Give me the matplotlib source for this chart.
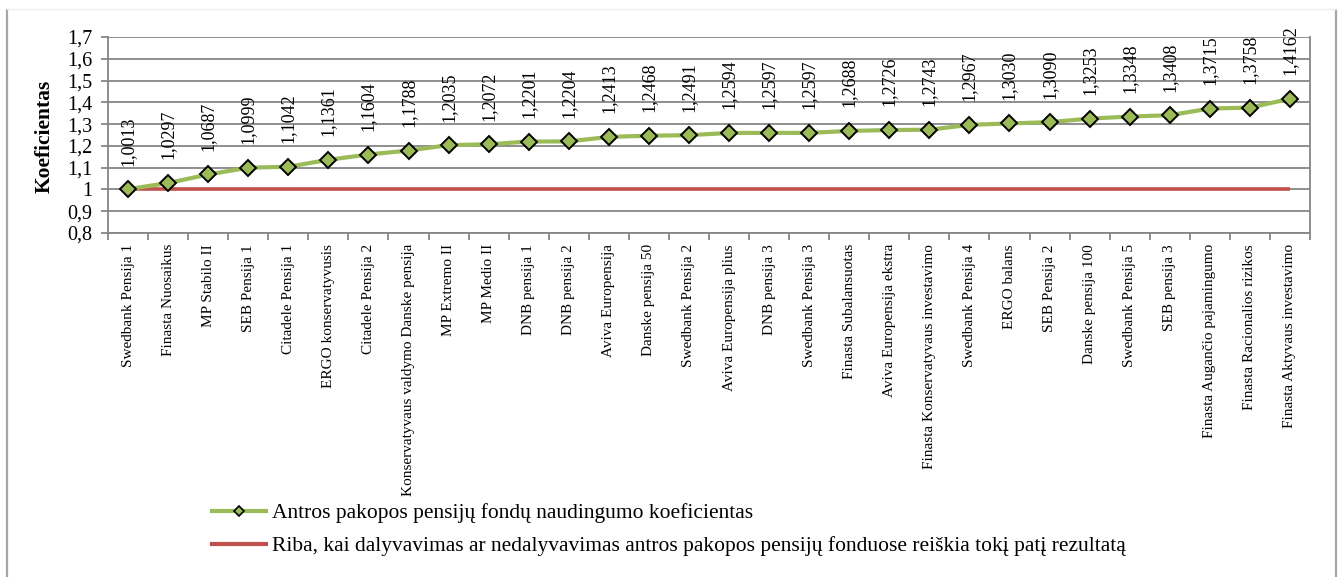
import matplotlib
matplotlib.use("Agg")
import matplotlib.pyplot as plt
from matplotlib.lines import Line2D
from matplotlib.font_manager import FontProperties

plt.rcParams["font.family"] = ["Liberation Serif", "DejaVu Serif"]

funds = [
    "Swedbank Pensija 1", "Finasta Nuosaikus", "MP Stabilo II", "SEB Pensija 1",
    "Citadele Pensija 1", "ERGO konservatyvusis", "Citadele Pensija 2",
    "Konservatyvaus valdymo Danske pensija", "MP Extremo II", "MP Medio II",
    "DNB pensija 1", "DNB pensija 2", "Aviva Europensija", "Danske pensija 50",
    "Swedbank Pensija 2", "Aviva Europensija plius", "DNB pensija 3",
    "Swedbank Pensija 3", "Finasta Subalansuotas", "Aviva Europensija ekstra",
    "Finasta Konservatyvaus investavimo", "Swedbank Pensija 4", "ERGO balans",
    "SEB Pensija 2", "Danske pensija 100", "Swedbank Pensija 5", "SEB pensija 3",
    "Finasta Augančio pajamingumo", "Finasta Racionalios rizikos",
    "Finasta Aktyvaus investavimo",
]
coefficients = [
    1.0013, 1.0297, 1.0687, 1.0999, 1.1042, 1.1361, 1.1604, 1.1788, 1.2035,
    1.2072, 1.2201, 1.2204, 1.2413, 1.2468, 1.2491, 1.2594, 1.2597, 1.2597,
    1.2688, 1.2726, 1.2743, 1.2967, 1.3030, 1.3090, 1.3253, 1.3348, 1.3408,
    1.3715, 1.3758, 1.4162,
]
threshold = [1.0] * len(funds)
y_ticks = [0.8, 0.9, 1.0, 1.1, 1.2, 1.3, 1.4, 1.5, 1.6, 1.7]
y_tick_labels = ["0,8", "0,9", "1", "1,1", "1,2", "1,3", "1,4", "1,5", "1,6", "1,7"]
series_label = "Antros pakopos pensijų fondų naudingumo koeficientas"
threshold_label = ("Riba, kai dalyvavimas ar nedalyvavimas antros pakopos pensijų "
                   "fonduose reiškia tokį patį rezultatą")

W, H = 1342, 577
fig = plt.figure(figsize=(W / 100, H / 100), dpi=100)

# outer frame of the chart object
frame_col = "#A6A6A6"
fig.add_artist(Line2D([7 / W, 7 / W], [0, 1 - 10 / H], transform=fig.transFigure,
                      color=frame_col, lw=1.6))
fig.add_artist(Line2D([1336 / W, 1336 / W], [0, 1 - 10 / H], transform=fig.transFigure,
                      color=frame_col, lw=1.6))
fig.add_artist(Line2D([7 / W, 1336 / W], [1 - 9 / H, 1 - 9 / H], transform=fig.transFigure,
                      color="#EEEEEE", lw=1.0))

left, right, top, bottom = 108, 1310, 37, 233
ax = fig.add_axes([left / W, 1 - bottom / H, (right - left) / W, (bottom - top) / H])

grid_col = "#868686"
x = list(range(len(funds)))
green = "#9BBB59"
red = "#C0504D"

ax.plot(x, threshold, color=red, lw=2.6, solid_capstyle="butt", zorder=3)
ax.plot(x, coefficients, color=green, lw=3.0, marker="D", markersize=8.5,
        markerfacecolor=green, markeredgecolor="black", markeredgewidth=1.4, zorder=4)

for xi, v in zip(x, coefficients):
    ax.annotate(f"{v:.4f}".replace(".", ","), (xi, v), xytext=(0, 17),
                textcoords="offset points", rotation=90, ha="center", va="bottom",
                fontsize=13, color="black")

ax.set_xlim(-0.5, len(funds) - 0.5)
ax.set_ylim(0.8, 1.7)
ax.set_yticks(y_ticks)
ax.set_yticklabels(y_tick_labels, fontsize=14.5)
ax.yaxis.grid(True, color=grid_col, lw=1.3)
ax.set_axisbelow(True)

ax.set_xticks(x)
ax.set_xticklabels(funds, rotation=90, fontsize=11, va="top", ha="center")
ax.set_xticks([i - 0.5 for i in range(len(funds) + 1)], minor=True)
ax.tick_params(axis="x", which="major", length=0, pad=8)
ax.tick_params(axis="x", which="minor", length=5, width=1.3, color=grid_col)
ax.tick_params(axis="y", length=5, width=1.3, color=grid_col, pad=6)

for side in ("left", "bottom", "right", "top"):
    ax.spines[side].set_color(grid_col)
    ax.spines[side].set_linewidth(1.3)
ax.spines["top"].set_visible(False)

fig.text(45 / W, 1 - 136 / H, "Koeficientas", rotation=90, ha="center", va="center",
         fontsize=15.5, fontweight="bold")

handles = [
    Line2D([], [], color=green, lw=3.0, marker="D", markersize=5,
           markerfacecolor=green, markeredgecolor="black", markeredgewidth=1.2),
    Line2D([], [], color=red, lw=3.0),
]
legend_font = FontProperties(family=["Liberation Serif", "DejaVu Serif"], size=15.5)
fig.legend(handles, [series_label, threshold_label], loc="upper left",
           bbox_to_anchor=(212 / W, 1 - 503 / H), frameon=False, prop=legend_font,
           handlelength=2.5, handletextpad=0.3, labelspacing=0.62, borderpad=0,
           borderaxespad=0)

fig.savefig("out.png", dpi=100, facecolor="white")
